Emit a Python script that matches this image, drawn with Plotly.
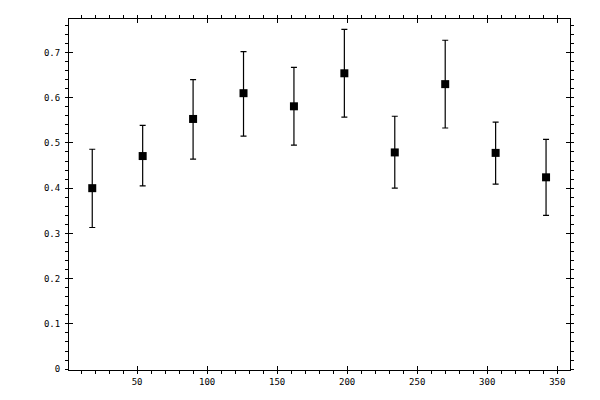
import plotly.graph_objects as go

# angle positions and measured values with asymmetric errors
x_vals = [18, 54, 90, 126, 162, 198, 234, 270, 306, 342]
y_vals = [0.400, 0.471, 0.553, 0.610, 0.581, 0.654, 0.479, 0.630, 0.478, 0.424]
y_top = [0.486, 0.539, 0.640, 0.702, 0.667, 0.751, 0.559, 0.727, 0.546, 0.508]
y_bottom = [0.313, 0.405, 0.464, 0.515, 0.495, 0.557, 0.400, 0.533, 0.409, 0.340]

err_plus = [t - v for t, v in zip(y_top, y_vals)]
err_minus = [v - b for v, b in zip(y_vals, y_bottom)]

x_range = [1.4, 359.1]
y_range = [-0.002, 0.774]

fig = go.Figure()
fig.add_trace(go.Scatter(
    x=x_vals, y=y_vals, mode="markers",
    marker=dict(symbol="square", size=8, color="black"),
    error_y=dict(type="data", symmetric=False, array=err_plus, arrayminus=err_minus,
                 color="black", thickness=1.2, width=3),
    showlegend=False,
))
# invisible trace on overlay axes, used only for the inner half of the major ticks
fig.add_trace(go.Scatter(x=[x_range[0]], y=[y_range[0]], xaxis="x2", yaxis="y2",
                         mode="markers", marker=dict(opacity=0), showlegend=False,
                         hoverinfo="skip"))

font = dict(family="DejaVu Sans Mono", size=9, color="black")
common = dict(showgrid=False, zeroline=False, showline=True, linecolor="black", linewidth=1,
              tickcolor="black", tickwidth=1, ticks="outside", ticklen=3, mirror="allticks",
              tickfont=font, automargin=False)

fig.update_layout(
    width=600, height=400,
    margin=dict(l=61, r=38, t=11, b=38),
    paper_bgcolor="white", plot_bgcolor="white",
    xaxis=dict(range=x_range, dtick=50, tick0=0,
               minor=dict(dtick=10, ticks="outside", ticklen=3, tickcolor="black", tickwidth=1),
               **common),
    yaxis=dict(range=y_range, dtick=0.1, tick0=0, ticklabelstandoff=3,
               minor=dict(dtick=0.02, ticks="outside", ticklen=3, tickcolor="black", tickwidth=1),
               **common),
    xaxis2=dict(range=x_range, dtick=50, tick0=0, overlaying="x", showticklabels=False,
                ticks="inside", ticklen=4, tickcolor="black", tickwidth=1, mirror="ticks",
                showgrid=False, zeroline=False, showline=False, automargin=False),
    yaxis2=dict(range=y_range, dtick=0.1, tick0=0, overlaying="y", showticklabels=False,
                ticks="inside", ticklen=4, tickcolor="black", tickwidth=1, mirror="ticks",
                showgrid=False, zeroline=False, showline=False, automargin=False),
)

fig.write_html("out.html")
